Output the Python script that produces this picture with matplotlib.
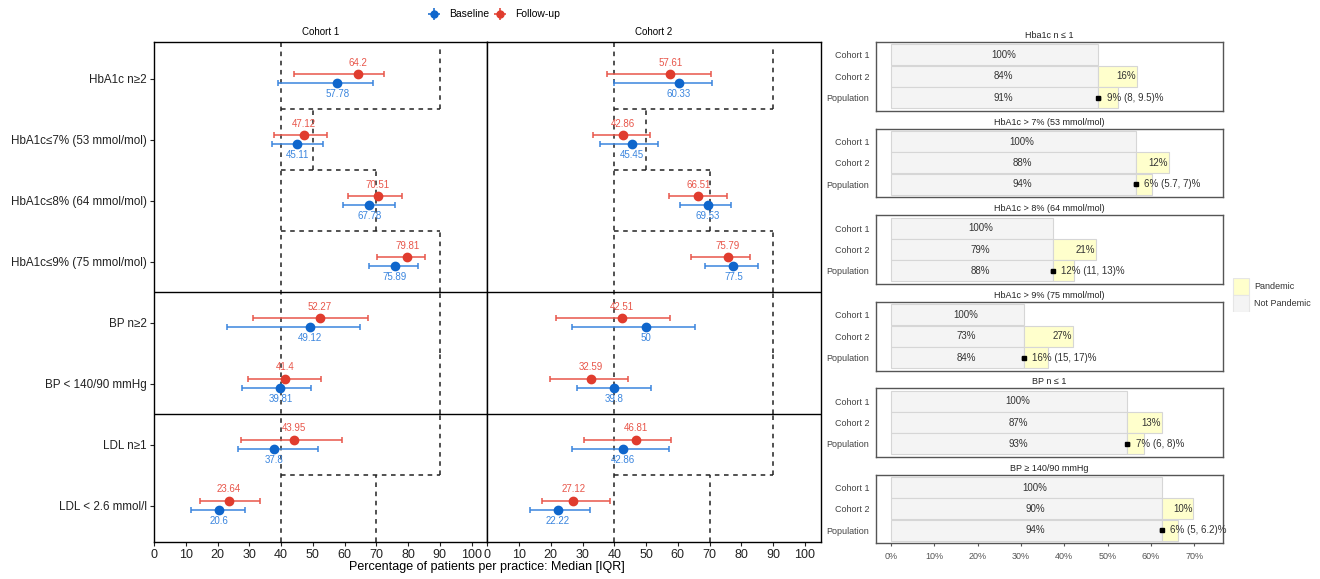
import numpy as np
import matplotlib
matplotlib.use("Agg")
import matplotlib.pyplot as plt

plt.rcParams['font.family'] = ['Liberation Sans', 'DejaVu Sans']

# ---- forest panel data (left) ----
measures = ["HbA1c n≥2", "HbA1c≤7% (53 mmol/mol)", "HbA1c≤8% (64 mmol/mol)",
            "HbA1c≤9% (75 mmol/mol)", "BP n≥2", "BP < 140/90 mmHg",
            "LDL n≥1", "LDL < 2.6 mmol/l"]
targets = [90, 50, 70, 90, 90, 90, 90, 70]
lower_target = 40

c1_base_med = [57.78, 45.11, 67.78, 75.89, 49.12, 39.81, 37.8, 20.6]
c1_base_lo = [39.0, 37.1, 59.6, 67.6, 23.1, 27.7, 26.5, 11.8]
c1_base_hi = [69.1, 53.3, 75.8, 83.1, 64.9, 49.3, 51.5, 28.7]
c1_fu_med = [64.2, 47.12, 70.51, 79.81, 52.27, 41.4, 43.95, 23.64]
c1_fu_lo = [44.2, 37.9, 61.2, 70.1, 31.3, 29.7, 27.5, 14.5]
c1_fu_hi = [72.4, 54.4, 78.2, 85.4, 67.4, 52.7, 59.1, 33.3]

c2_base_med = [60.33, 45.45, 69.53, 77.5, 50, 39.8, 42.86, 22.22]
c2_base_lo = [40.0, 35.4, 60.8, 68.5, 26.8, 28.2, 26.8, 13.4]
c2_base_hi = [70.8, 53.8, 76.8, 85.1, 65.5, 51.5, 57.2, 32.4]
c2_fu_med = [57.61, 42.86, 66.51, 75.79, 42.51, 32.59, 46.81, 27.12]
c2_fu_lo = [37.6, 33.2, 57.1, 64.0, 21.6, 19.8, 30.3, 17.3]
c2_fu_hi = [70.6, 51.3, 75.5, 82.7, 57.4, 44.3, 58.0, 38.5]

# ---- stacked bar data (right) ----
bar_titles = ["Hba1c n ≤ 1", "HbA1c > 7% (53 mmol/mol)", "HbA1c > 8% (64 mmol/mol)",
              "HbA1c > 9% (75 mmol/mol)", "BP n ≤ 1", "BP ≥ 140/90 mmHg"]
bar_rows = ["Cohort 1", "Cohort 2", "Population"]
not_pandemic_end = [47.9, 56.5, 37.3, 30.6, 54.6, 62.5]
cohort2_end = [56.7, 64.1, 47.3, 41.9, 62.5, 69.8]
population_end = [52.5, 60.3, 42.3, 36.3, 58.5, 66.2]
cohort1_pct = [100, 100, 100, 100, 100, 100]
cohort2_np = [84, 88, 79, 73, 87, 90]
cohort2_p = [16, 12, 21, 27, 13, 10]
pop_np = [91, 94, 88, 84, 93, 94]
pop_p = [9, 6, 12, 16, 7, 6]
pop_ci = ["(8, 9.5)", "(5.7, 7)", "(11, 13)", "(15, 17)", "(6, 8)", "(5, 6.2)"]

blue = '#0F66CC'
red = '#E03C2E'
W, H = 1320, 579

fig = plt.figure(figsize=(13.2, 5.79), dpi=100)


def px_axes(x0, y0, x1, y1):
    return fig.add_axes([x0 / W, 1 - y1 / H, (x1 - x0) / W, (y1 - y0) / H])


n = len(measures)
ys = np.arange(n, 0, -1)  # top row = 8

panels = [
    ("Cohort 1", c1_base_med, c1_base_lo, c1_base_hi, c1_fu_med, c1_fu_lo, c1_fu_hi),
    ("Cohort 2", c2_base_med, c2_base_lo, c2_base_hi, c2_fu_med, c2_fu_lo, c2_fu_hi),
]
left_edges = [154, 487.3]
for k, (name, bm, bl, bh, fm, fl, fh) in enumerate(panels):
    ax = px_axes(left_edges[k], 42.3, left_edges[k] + 333.4, 542.3)
    ax.set_xlim(0, 105)
    ax.set_ylim(0.4, n + 0.6)
    # target dashed lines
    ax.axvline(lower_target, color='#222222', ls=(0, (3, 3)), lw=1.1, zorder=1)
    for i, t in enumerate(targets):
        y = ys[i]
        y0 = 0.4 if i == n - 1 else y - 0.5
        ax.plot([t, t], [y0, y + 0.5], color='#222222', ls=(0, (3, 3)), lw=1.1, zorder=1)
        if i < n - 1 and targets[i + 1] != t:
            ax.plot([lower_target, max(t, targets[i + 1])], [y - 0.5, y - 0.5],
                    color='#222222', ls=(0, (3, 3)), lw=1.1, zorder=1)
    for yb in [4.5, 2.5]:
        ax.axhline(yb, color='black', lw=1.0, zorder=2)
    # error bars
    yb_ = ys - 0.07
    yf_ = ys + 0.085
    ax.errorbar(bm, yb_, xerr=[np.array(bm) - np.array(bl), np.array(bh) - np.array(bm)],
                fmt='o', color=blue, ecolor='#3A85DE', elinewidth=1.1, capsize=2,
                capthick=1.1, ms=6, zorder=4)
    ax.errorbar(fm, yf_, xerr=[np.array(fm) - np.array(fl), np.array(fh) - np.array(fm)],
                fmt='o', color=red, ecolor='#E8564A', elinewidth=1.1, capsize=2,
                capthick=1.1, ms=6, zorder=4)
    for i in range(n):
        ax.text(bm[i], yb_[i] - 0.1, f"{bm[i]:g}", color='#3A85DE', fontsize=7,
                ha='center', va='top', zorder=5)
        ax.text(fm[i], yf_[i] + 0.1, f"{fm[i]:g}", color='#E8564A', fontsize=7,
                ha='center', va='bottom', zorder=5)
    ax.set_xticks(range(0, 101, 10))
    ax.tick_params(axis='x', labelsize=9, length=3, colors='#222222', pad=2)
    ax.set_yticks(ys)
    if k == 0:
        ax.set_yticklabels(measures, fontsize=8.4)
        ax.tick_params(axis='y', length=3, colors='#222222', pad=2)
    else:
        ax.tick_params(axis='y', left=False, labelleft=False)
    for s in ax.spines.values():
        s.set_color('black')
        s.set_linewidth(1.0)
    ax.set_title(name, fontsize=7, pad=5)

fig.text(487.3 / W, 1 - 567 / H, "Percentage of patients per practice: Median [IQR]",
         ha='center', va='center', fontsize=9)

# top legend
leg_ax = px_axes(420, 4, 570, 24)
leg_ax.set_xlim(0, 150)
leg_ax.set_ylim(0, 20)
leg_ax.axis('off')
leg_ax.errorbar([14], [10], xerr=[[6], [6]], yerr=[[6], [6]], fmt='o', color=blue,
                ms=5, elinewidth=1.1, capsize=0)
leg_ax.text(29, 10, "Baseline", fontsize=7.5, va='center')
leg_ax.errorbar([80], [10], xerr=[[6], [6]], yerr=[[6], [6]], fmt='o', color=red,
                ms=5, elinewidth=1.1, capsize=0)
leg_ax.text(95, 10, "Follow-up", fontsize=7.5, va='center')

# right stacked bars
tops = [42, 128.7, 215.3, 302, 388.3, 474.7]
grey_fill = '#F4F4F4'
grey_edge = '#D6D6D6'
yellow = '#FFFFCC'
for j in range(len(bar_titles)):
    ax = px_axes(876, tops[j], 1222.7, tops[j] + 68.5)
    ax.set_xlim(-3.5, 76.6)
    ax.set_ylim(0.4, 3.6)
    g = not_pandemic_end[j]
    rows_y = [3, 2, 1]
    ax.barh(rows_y, [g, g, g], height=0.98, color=grey_fill, edgecolor=grey_edge, lw=0.8)
    ax.barh([2, 1], [cohort2_end[j] - g, population_end[j] - g], left=g, height=0.98,
            color=yellow, edgecolor=grey_edge, lw=0.8)
    lx = g / 2 + 2
    ax.text(lx, 3, f"{cohort1_pct[j]}%", ha='center', va='center', fontsize=7, color='#333333')
    ax.text(lx, 2, f"{cohort2_np[j]}%", ha='center', va='center', fontsize=7, color='#333333')
    ax.text(lx, 1, f"{pop_np[j]}%", ha='center', va='center', fontsize=7, color='#333333')
    ax.text(cohort2_end[j] - 0.2, 2, f"{cohort2_p[j]}%", ha='right', va='center',
            fontsize=7, color='#333333')
    ax.text(g + 2, 1, f"{pop_p[j]}% {pop_ci[j]}%", ha='left', va='center',
            fontsize=7, color='#333333')
    ax.errorbar([g], [1], xerr=[[0.4], [0.4]], fmt='s', color='black', ms=2.5,
                elinewidth=1, capsize=1.5, zorder=5)
    ax.set_yticks(rows_y)
    ax.set_yticklabels(bar_rows, fontsize=6.5, color='#444444')
    ax.tick_params(axis='y', length=0, pad=5)
    if j == len(bar_titles) - 1:
        ax.set_xticks(range(0, 71, 10))
        ax.set_xticklabels([f"{v}%" for v in range(0, 71, 10)], fontsize=6.5, color='#555555')
        ax.tick_params(axis='x', length=2.5, colors='#555555', labelcolor='#555555')
    else:
        ax.set_xticks([])
    for s in ax.spines.values():
        s.set_color('#555555')
        s.set_linewidth(1.0)
    ax.set_title(bar_titles[j], fontsize=6.5, pad=3, color='#222222')

# right legend
lg = px_axes(1230, 278, 1320, 312)
lg.set_xlim(0, 90)
lg.set_ylim(34, 0)
lg.axis('off')
lg.add_patch(plt.Rectangle((2.5, 0), 16, 17, facecolor=yellow, edgecolor='#E6E6E6', lw=0.8))
lg.add_patch(plt.Rectangle((2.5, 17), 16, 17, facecolor=grey_fill, edgecolor='#E6E6E6', lw=0.8))
lg.text(24, 8.5, "Pandemic", fontsize=6.5, va='center', color='#333333')
lg.text(24, 25.5, "Not Pandemic", fontsize=6.5, va='center', color='#333333')

fig.savefig("out.png", dpi=100)
